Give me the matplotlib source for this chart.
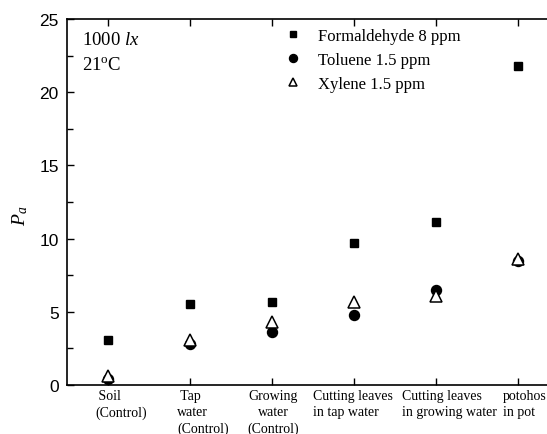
import matplotlib
matplotlib.use('Agg')
from matplotlib import pyplot as plt
from matplotlib.transforms import ScaledTranslation
import numpy as np

plt.rcParams['mathtext.fontset'] = 'custom'
plt.rcParams['mathtext.rm'] = 'Liberation Serif'
plt.rcParams['mathtext.it'] = 'Liberation Serif:italic'

categories = [' Soil\n(Control)', ' Tap\nwater\n(Control)', 'Growing\nwater\n(Control)',
              'Cutting leaves\nin tap water', 'Cutting leaves\nin growing water', 'potohos\nin pot']
formaldehyde = [3.1, 5.5, 5.7, 9.7, 11.1, 21.8]
toluene = [0.4, 2.8, 3.6, 4.8, 6.5, 8.5]
xylene = [0.6, 3.1, 4.3, 5.7, 6.1, 8.6]

W, H = 547, 435
fig = plt.figure(figsize=(W / 100, H / 100), dpi=100)
# axes runs past the right edge of the figure, like the cropped original
ax = fig.add_axes([67 / W, 1 - 386 / H, 492 / W, 366 / H])

x = np.arange(1, len(categories) + 1)
ax.plot(x, formaldehyde, 's', color='black', ms=6.2, label='Formaldehyde 8 ppm')
ax.plot(x, toluene, 'o', color='black', ms=7.2, label='Toluene 1.5 ppm')
ax.plot(x, xylene, '^', mfc='white', mec='black', mew=1.1, ms=8, label='Xylene 1.5 ppm')

ax.set_xlim(0.5, 6.5)
ax.set_ylim(0, 25)
ax.set_yticks([0, 5, 10, 15, 20, 25])
ax.set_yticks(np.arange(2.5, 25, 5), minor=True)
ax.set_xticks(x)
ax.set_xticklabels(categories, family='Liberation Serif', fontsize=10, linespacing=1.3)
ax.tick_params(axis='y', which='major', direction='in', length=5, width=1, labelsize=12.5, pad=6)
ax.tick_params(axis='y', which='minor', direction='in', length=4, width=1)
ax.tick_params(axis='x', which='major', direction='in', length=5, width=1, pad=3, top=True)
for lab in ax.get_yticklabels():
    lab.set_family('Liberation Sans')

# labels are not centred under the ticks in the original, shift them by hand (pixels)
shifts = [-13, -13, 1, -41, -34, -15]
aligns = ['left', 'left', 'center', 'left', 'left', 'left']
for lab, dx, ha in zip(ax.get_xticklabels(), shifts, aligns):
    lab.set_ha(ha)
    lab.set_multialignment('left' if ha == 'left' else 'center')
    lab.set_transform(lab.get_transform() + ScaledTranslation(dx / 100, 0, fig.dpi_scale_trans))

for s in ax.spines.values():
    s.set_linewidth(1.2)
ax.spines['right'].set_visible(False)

fig.text(20 / W, 1 - 216 / H, '$P_a$', rotation=90, fontsize=14,
         ha='center', va='center')

ax.text(0.03, 0.967, '1000 $lx$', transform=ax.transAxes, fontsize=13.5,
        family='Liberation Serif', va='top')
ax.text(0.03, 0.9, '21$^{\\mathrm{o}}$C', transform=ax.transAxes, fontsize=13.5,
        family='Liberation Serif', va='top')

leg = ax.legend(loc='upper left', bbox_to_anchor=(276 / W, 1 - 21 / H),
                bbox_transform=fig.transFigure, frameon=False,
                prop={'family': 'Liberation Serif', 'size': 12},
                handlelength=1.0, handletextpad=1.0, labelspacing=0.47,
                markerscale=0.8, borderpad=0)

fig.savefig('out.png', dpi=100)
